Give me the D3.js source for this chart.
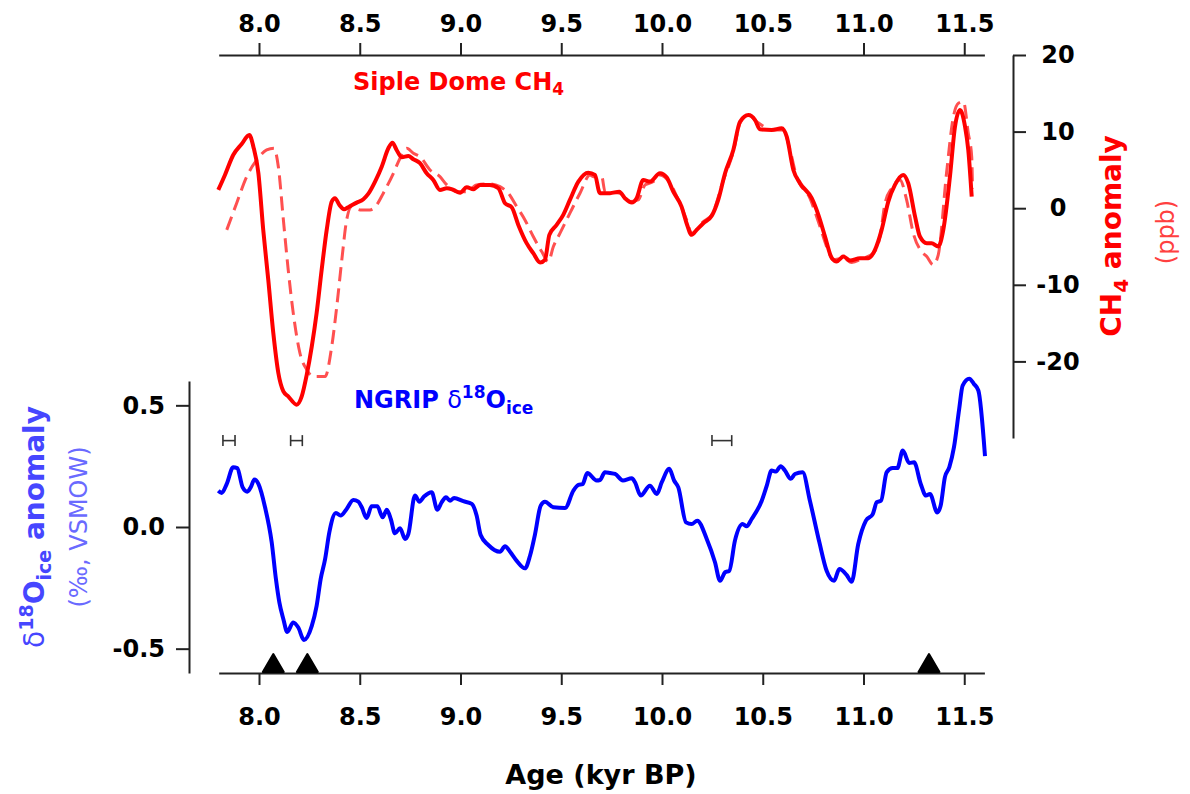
<!DOCTYPE html>
<html>
<head>
<meta charset="utf-8">
<script src="https://cdn.jsdelivr.net/npm/d3@7"></script>
<style>
  body { margin: 0; background: #fff; }
  svg { display: block; }
</style>
</head>
<body>
<script>
// data: [age kyr BP, anomaly]
var ngripD18O = [
  [7.798,0.149],[7.815,0.140],[7.840,0.177],[7.872,0.246],[7.892,0.242],[7.919,0.163],[7.942,0.145],[7.959,0.163],
  [7.977,0.195],[7.997,0.177],[8.030,0.081],[8.063,-0.063],[8.084,-0.214],[8.101,-0.310],[8.121,-0.379],[8.140,-0.431],
  [8.170,-0.392],[8.195,-0.413],[8.223,-0.464],[8.262,-0.406],[8.286,-0.324],[8.306,-0.214],[8.328,-0.132],[8.349,-0.022],
  [8.382,0.058],[8.405,0.047],[8.435,0.074],[8.468,0.111],[8.493,0.104],[8.510,0.081],[8.534,0.037],[8.559,0.085],
  [8.587,0.085],[8.614,0.040],[8.634,0.071],[8.654,0.033],[8.675,-0.026],[8.700,-0.005],[8.725,-0.049],[8.741,-0.029],
  [8.774,0.129],[8.796,0.104],[8.819,0.125],[8.857,0.143],[8.885,0.071],[8.907,0.102],[8.928,0.122],[8.948,0.108],
  [8.968,0.119],[9.014,0.106],[9.056,0.095],[9.080,0.047],[9.100,-0.033],[9.138,-0.074],[9.196,-0.102],[9.221,-0.079],
  [9.246,-0.102],[9.279,-0.139],[9.320,-0.170],[9.345,-0.118],[9.370,-0.029],[9.398,0.088],[9.419,0.104],[9.461,0.081],
  [9.519,0.078],[9.560,0.149],[9.585,0.173],[9.606,0.176],[9.629,0.222],[9.676,0.191],[9.692,0.193],[9.717,0.225],
  [9.742,0.222],[9.767,0.218],[9.806,0.191],[9.850,0.200],[9.866,0.184],[9.894,0.129],[9.940,0.170],[9.974,0.136],
  [9.999,0.184],[10.036,0.239],[10.060,0.191],[10.081,0.163],[10.119,0.019],[10.147,0.012],[10.175,0.026],[10.222,-0.049],
  [10.263,-0.145],[10.288,-0.221],[10.313,-0.186],[10.334,-0.180],[10.362,-0.056],[10.400,0.012],[10.420,0.003],[10.445,0.033],
  [10.495,0.108],[10.520,0.170],[10.544,0.232],[10.566,0.228],[10.589,0.250],[10.610,0.232],[10.639,0.198],[10.660,0.218],
  [10.698,0.225],[10.734,0.108],[10.781,-0.063],[10.817,-0.180],[10.854,-0.221],[10.880,-0.173],[10.917,-0.198],[10.941,-0.225],
  [10.974,-0.070],[11.012,0.026],[11.046,0.053],[11.066,0.102],[11.087,0.108],[11.115,0.225],[11.145,0.242],[11.168,0.242],
  [11.195,0.314],[11.227,0.263],[11.251,0.266],[11.284,0.177],[11.310,0.129],[11.330,0.136],[11.366,0.060],[11.383,0.088],
  [11.404,0.205],[11.426,0.246],[11.449,0.328],[11.475,0.486],[11.492,0.581],[11.525,0.609],[11.548,0.588],[11.570,0.561],
  [11.603,0.291]
];

var ch4Solid = [
  [7.798,2.39],[7.831,4.34],[7.872,6.95],[7.914,8.38],[7.952,9.56],[7.972,8.03],[7.997,4.56],[8.021,-2.83],
  [8.046,-9.35],[8.071,-16.30],[8.096,-21.51],[8.121,-23.91],[8.145,-24.56],[8.187,-25.65],[8.212,-24.56],[8.237,-21.73],
  [8.262,-18.04],[8.286,-13.69],[8.311,-8.04],[8.336,-2.83],[8.361,0.86],[8.377,1.30],[8.399,0.43],[8.422,-0.13],
  [8.443,0.13],[8.485,0.73],[8.518,1.17],[8.542,1.86],[8.576,3.47],[8.609,5.42],[8.642,7.82],[8.662,8.55],
  [8.683,7.60],[8.708,6.65],[8.741,6.82],[8.766,6.39],[8.799,5.87],[8.832,4.56],[8.865,3.69],[8.898,2.39],
  [8.932,2.61],[8.965,2.39],[8.998,2.03],[9.031,2.74],[9.064,2.48],[9.097,3.04],[9.146,3.04],[9.188,2.61],
  [9.221,0.65],[9.254,0.13],[9.287,-2.18],[9.328,-4.56],[9.361,-5.87],[9.395,-7.09],[9.419,-6.74],[9.441,-3.48],
  [9.477,-2.18],[9.510,-0.87],[9.543,1.08],[9.585,3.47],[9.634,4.64],[9.667,4.34],[9.692,1.96],[9.742,1.96],
  [9.788,2.16],[9.816,1.30],[9.850,0.73],[9.874,1.30],[9.907,3.69],[9.940,3.47],[9.990,4.56],[10.023,4.04],
  [10.056,2.16],[10.097,0.21],[10.122,-1.96],[10.147,-3.48],[10.172,-2.83],[10.205,-1.96],[10.247,-1.00],[10.279,1.08],
  [10.313,4.56],[10.354,7.60],[10.387,11.29],[10.429,12.16],[10.462,11.51],[10.486,10.30],[10.544,10.21],[10.594,10.43],
  [10.619,9.34],[10.652,4.99],[10.685,3.26],[10.743,1.30],[10.776,-0.87],[10.809,-3.70],[10.843,-6.52],[10.867,-6.96],
  [10.900,-6.31],[10.933,-6.83],[10.983,-6.52],[11.024,-6.52],[11.057,-5.44],[11.090,-2.83],[11.123,0.86],[11.156,3.04],
  [11.197,4.34],[11.222,3.26],[11.256,-1.10],[11.280,-3.70],[11.314,-4.56],[11.338,-4.56],[11.371,-5.01],[11.396,-2.83],
  [11.429,4.12],[11.454,10.64],[11.479,12.82],[11.504,10.64],[11.520,7.60],[11.537,1.51]
];

var ch4Dashed = [
  [7.840,-2.83],[7.889,0.65],[7.939,4.12],[7.989,6.30],[8.038,7.60],[8.074,7.82],[8.096,5.42],[8.121,-1.53],
  [8.145,-8.04],[8.170,-13.69],[8.203,-18.90],[8.237,-21.08],[8.269,-21.96],[8.328,-21.96],[8.361,-18.04],[8.386,-12.83],
  [8.411,-6.74],[8.435,-1.53],[8.460,0.21],[8.501,-0.22],[8.551,-0.22],[8.584,0.43],[8.617,1.96],[8.667,4.56],
  [8.700,6.52],[8.733,7.82],[8.766,7.17],[8.799,6.73],[8.849,4.99],[8.898,4.12],[8.932,3.04],[8.981,2.16],
  [9.031,2.16],[9.080,3.04],[9.146,3.17],[9.196,2.82],[9.237,1.96],[9.279,0.21],[9.320,-1.53],[9.361,-3.70],
  [9.403,-5.66],[9.436,-6.96],[9.461,-5.01],[9.494,-3.26],[9.543,-0.65],[9.593,1.96],[9.643,4.34],[9.659,4.12],
  [9.701,4.12],[9.717,2.16],[9.792,1.96],[9.841,0.86],[9.882,1.08],[9.916,3.04],[9.957,3.47],[9.990,4.34],
  [10.040,3.26],[10.081,1.08],[10.122,-1.53],[10.147,-3.26],[10.205,-1.75],[10.247,-0.87],[10.305,3.69],[10.354,7.38],
  [10.387,11.08],[10.429,12.16],[10.470,11.29],[10.553,10.21],[10.602,10.21],[10.635,7.60],[10.668,4.12],[10.734,1.30],
  [10.784,-2.40],[10.817,-5.01],[10.850,-6.74],[10.900,-6.52],[10.941,-7.09],[10.999,-6.52],[11.049,-5.87],[11.082,-3.70],
  [11.107,0.65],[11.140,2.61],[11.181,3.69],[11.214,1.08],[11.247,-3.26],[11.288,-5.66],[11.314,-6.31],[11.346,-7.39],
  [11.371,-6.09],[11.412,4.56],[11.446,11.94],[11.471,13.69],[11.496,13.90],[11.520,9.78],[11.537,6.73],[11.541,2.5]
];

// age-model error bars (centre, half width) and the triangle markers
var errCenters = [7.851, 8.186, 10.297];
var errHalf = [0.030, 0.029, 0.049];
var errLevel = 0.355;
var triangleAges = [8.071, 8.240, 11.325];

var ageTicks = [8.0, 8.5, 9.0, 9.5, 10.0, 10.5, 11.0, 11.5];
var d18OTicks = [-0.5, 0.0, 0.5];
var ch4Ticks = [-20, -10, 0, 10, 20];

var width = 1190;
var height = 794;
var font = "'DejaVu Sans', sans-serif";
var axisColor = "#222";

var svg = d3.select("body").append("svg")
  .attr("width", width)
  .attr("height", height);

// shared age scale, the CH4 panel on top and the d18O panel below
var x = d3.scaleLinear().domain([7.8, 11.6]).range([218.7, 984.4]);
var yC = d3.scaleLinear().domain([-30, 20]).range([438, 55]);
var yD = d3.scaleLinear().domain([-0.6, 0.6]).range([673, 381]);

var fmt1 = function(d) { return d.toFixed(1); };
var fmt0 = function(d) { return String(d); };

// style an axis group the same way every time
var styleAxis = function(g) {
  g.attr("font-family", font).attr("font-size", 24).attr("font-weight", "bold");
  g.selectAll("path, line").attr("stroke", axisColor).attr("stroke-width", 2);
  g.selectAll("text").attr("fill", "#000");
};

svg.append("g")
  .attr("transform", "translate(0,55)")
  .call(d3.axisTop(x).tickValues(ageTicks).tickFormat(fmt1).tickSize(12).tickSizeOuter(0).tickPadding(11))
  .call(styleAxis);

svg.append("g")
  .attr("transform", "translate(0,673)")
  .call(d3.axisBottom(x).tickValues(ageTicks).tickFormat(fmt1).tickSize(12).tickSizeOuter(0).tickPadding(23))
  .call(styleAxis);

svg.append("g")
  .attr("transform", "translate(189,0)")
  .call(d3.axisLeft(yD).tickValues(d18OTicks).tickFormat(fmt1).tickSize(13).tickSizeOuter(0).tickPadding(11))
  .call(styleAxis);

var rightAxis = svg.append("g")
  .attr("transform", "translate(1013,0)")
  .call(d3.axisRight(yC).tickValues(ch4Ticks).tickFormat(fmt0).tickSize(13).tickSizeOuter(0))
  .call(styleAxis);
// labels on the right look centred rather than left aligned
rightAxis.selectAll(".tick text").attr("text-anchor", "middle").attr("x", 45);

// curves
var lineC = d3.line()
  .x(function(d) { return x(d[0]); })
  .y(function(d) { return yC(d[1]); })
  .curve(d3.curveMonotoneX);
var lineD = d3.line()
  .x(function(d) { return x(d[0]); })
  .y(function(d) { return yD(d[1]); })
  .curve(d3.curveMonotoneX);

svg.append("path")
  .datum(ch4Dashed)
  .attr("d", lineC)
  .attr("fill", "none")
  .attr("stroke", "#ff5050")
  .attr("stroke-width", 3)
  .attr("stroke-dasharray", "14,7");

svg.append("path")
  .datum(ch4Solid)
  .attr("d", lineC)
  .attr("fill", "none")
  .attr("stroke", "#ff0000")
  .attr("stroke-width", 4)
  .attr("stroke-linejoin", "round");

svg.append("path")
  .datum(ngripD18O)
  .attr("d", lineD)
  .attr("fill", "none")
  .attr("stroke", "#0000ff")
  .attr("stroke-width", 4)
  .attr("stroke-linejoin", "round");

// little H shaped age uncertainty bars
var errG = svg.append("g").attr("stroke", "#333").attr("stroke-width", 1.6).attr("fill", "none");
errCenters.forEach(function(c, i) {
  var x0 = x(c - errHalf[i]), x1 = x(c + errHalf[i]), yy = yD(errLevel);
  errG.append("line").attr("x1", x0).attr("x2", x1).attr("y1", yy).attr("y2", yy);
  errG.append("line").attr("x1", x0).attr("x2", x0).attr("y1", yy - 5.5).attr("y2", yy + 5.5);
  errG.append("line").attr("x1", x1).attr("x2", x1).attr("y1", yy - 5.5).attr("y2", yy + 5.5);
});

// black triangles sitting on the bottom axis
var base = yD.range()[0];
svg.selectAll("path.tri")
  .data(triangleAges)
  .enter().append("path")
  .attr("class", "tri")
  .attr("fill", "#000")
  .attr("stroke", "#000")
  .attr("stroke-linejoin", "round")
  .attr("stroke-width", 2)
  .attr("d", function(d) {
    var cx = x(d);
    return "M" + (cx - 10.5) + "," + (base - 1) + "L" + cx + "," + (base - 19) + "L" + (cx + 10.5) + "," + (base - 1) + "Z";
  });

// panel labels
var siple = svg.append("text")
  .attr("x", 353).attr("y", 90)
  .attr("font-family", font).attr("font-size", 24).attr("font-weight", "bold")
  .attr("fill", "#ff0000")
  .text("Siple Dome CH");
siple.append("tspan").attr("font-size", 17).attr("dy", 5).text("4");

var ngrip = svg.append("text")
  .attr("x", 354).attr("y", 408)
  .attr("font-family", font).attr("font-size", 24).attr("font-weight", "bold")
  .attr("fill", "#0000ff")
  .text("NGRIP ");
ngrip.append("tspan").attr("font-weight", "normal").text("δ");
ngrip.append("tspan").attr("font-size", 17).attr("dy", -10).text("18");
ngrip.append("tspan").attr("dy", 10).text("O");
ngrip.append("tspan").attr("font-size", 17).attr("dy", 6).text("ice");

// right axis title
var ch4Title = svg.append("text")
  .attr("transform", "translate(1121,236) rotate(-90)")
  .attr("text-anchor", "middle")
  .attr("font-family", font).attr("font-size", 28).attr("font-weight", "bold")
  .attr("fill", "#ff0000")
  .text("CH");
ch4Title.append("tspan").attr("font-size", 20).attr("dy", 7).text("4");
ch4Title.append("tspan").attr("dy", -7).text(" anomaly");

svg.append("text")
  .attr("transform", "translate(1174,232) rotate(-90)")
  .attr("text-anchor", "middle")
  .attr("font-family", font).attr("font-size", 24)
  .attr("fill", "#ff4040")
  .text("(ppb)");

// left axis title
var dTitle = svg.append("text")
  .attr("transform", "translate(44,527) rotate(-90)")
  .attr("text-anchor", "middle")
  .attr("font-family", font).attr("font-size", 28).attr("font-weight", "bold")
  .attr("fill", "#4646ff");
dTitle.append("tspan").attr("font-weight", "normal").text("δ");
dTitle.append("tspan").attr("font-size", 19).attr("dy", -11).text("18");
dTitle.append("tspan").attr("dy", 11).text("O");
dTitle.append("tspan").attr("font-size", 19).attr("dy", 7).text("ice");
dTitle.append("tspan").attr("dy", -7).text(" anomaly");

svg.append("text")
  .attr("transform", "translate(87,527) rotate(-90)")
  .attr("text-anchor", "middle")
  .attr("font-family", font).attr("font-size", 24)
  .attr("fill", "#6a6aff")
  .text("(‰, VSMOW)");

// x axis title
svg.append("text")
  .attr("x", 601).attr("y", 784)
  .attr("text-anchor", "middle")
  .attr("font-family", font).attr("font-size", 27).attr("font-weight", "bold")
  .attr("fill", "#000")
  .text("Age (kyr BP)");
</script>
</body>
</html>
